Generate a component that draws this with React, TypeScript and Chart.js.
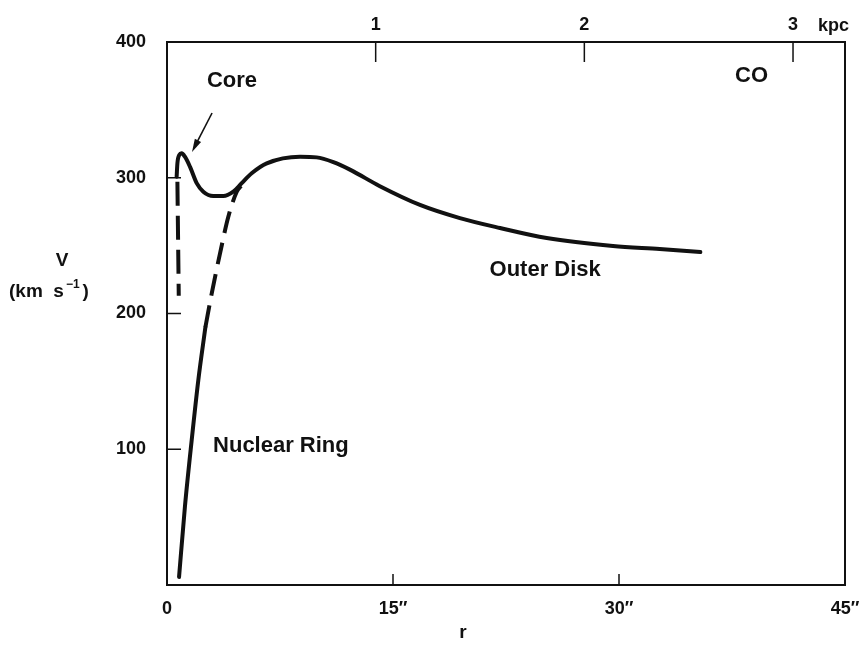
import { useEffect, useRef } from 'react';
import { Chart, registerables } from 'chart.js';
Chart.register(...registerables);

// Radius in arcsec, rotation velocity in km/s
const outerR = [0.64, 0.69, 0.82, 0.97, 1.19, 1.53, 1.97, 2.41, 3.07, 3.74, 4.40, 4.96, 5.62, 6.62, 8.83, 9.93, 11.04, 12.14, 14.13, 16.79, 19.44, 22.1, 25.2, 29.6, 32.7, 35.4];
const outerV = [300.8, 310.6, 316.8, 318, 315.5, 308, 296, 289.7, 286.5, 286.5, 289.7, 296, 303.3, 310.6, 315.5, 315, 311.5, 306, 293.8, 280, 270.3, 263, 255.6, 249.7, 247.5, 245.3];
const coreDashR = [0.69, 0.78];
const coreDashV = [297, 213];
const ringSolidR = [0.80, 1.19, 1.64, 2.08, 2.55];
const ringSolidV = [5.9, 57.7, 106.8, 151, 190];
const ringDashR = [2.55, 2.97, 3.52, 4.07, 4.63, 4.91];
const ringDashV = [190, 214.9, 244.3, 271.3, 289.7, 293.9];

const xTicks = [0, 15, 30, 45];
const yTicks = [100, 200, 300, 400];
const kpcTicks = [1, 2, 3];
const arcsecPerKpc = 13.85;

const labels = [
  { text: 'Core', r: 4.31, v: 371.3 },
  { text: 'CO', r: 38.8, v: 375 },
  { text: 'Outer Disk', r: 25.1, v: 232 },
  { text: 'Nuclear Ring', r: 7.56, v: 102.4 },
];
const arrowFrom = { r: 2.99, v: 347.7 };
const arrowTo = { r: 1.66, v: 319 };

const FONT = "'Liberation Sans', Arial, Helvetica, sans-serif";
const INK = '#111';

const pts = (xs: number[], ys: number[]) => xs.map((x, i) => ({ x, y: ys[i] }));

const overlay = {
  id: 'overlay',
  afterDraw(chart: any) {
    const { ctx, chartArea: a, scales } = chart;
    const sx = scales.x, sy = scales.y, sk = scales.x2;
    ctx.save();
    ctx.strokeStyle = INK;
    ctx.fillStyle = INK;
    ctx.lineWidth = 2;
    ctx.strokeRect(a.left, a.top, a.right - a.left, a.bottom - a.top);
    ctx.lineWidth = 1.5;
    ctx.beginPath();
    for (const v of yTicks) {
      if (v >= 400) continue;
      const y = sy.getPixelForValue(v);
      ctx.moveTo(a.left, y);
      ctx.lineTo(a.left + 14, y);
    }
    for (const v of xTicks) {
      if (v === 0 || v === 45) continue;
      const x = sx.getPixelForValue(v);
      ctx.moveTo(x, a.bottom);
      ctx.lineTo(x, a.bottom - 11);
    }
    for (const v of kpcTicks) {
      const x = sk.getPixelForValue(v);
      ctx.moveTo(x, a.top);
      ctx.lineTo(x, a.top + 20);
    }
    ctx.stroke();

    // annotations
    ctx.font = `bold 22px ${FONT}`;
    ctx.textAlign = 'center';
    ctx.textBaseline = 'middle';
    for (const l of labels) {
      ctx.fillText(l.text, sx.getPixelForValue(l.r), sy.getPixelForValue(l.v));
    }
    // arrow
    const x1 = sx.getPixelForValue(arrowFrom.r), y1 = sy.getPixelForValue(arrowFrom.v);
    const x2 = sx.getPixelForValue(arrowTo.r), y2 = sy.getPixelForValue(arrowTo.v);
    const ang = Math.atan2(y2 - y1, x2 - x1);
    const hl = 13, hw = 3.5;
    ctx.lineWidth = 1.6;
    ctx.beginPath();
    ctx.moveTo(x1, y1);
    ctx.lineTo(x2 - Math.cos(ang) * hl * 0.8, y2 - Math.sin(ang) * hl * 0.8);
    ctx.stroke();
    ctx.beginPath();
    ctx.moveTo(x2, y2);
    ctx.lineTo(x2 - Math.cos(ang) * hl - Math.sin(ang) * hw, y2 - Math.sin(ang) * hl + Math.cos(ang) * hw);
    ctx.lineTo(x2 - Math.cos(ang) * hl + Math.sin(ang) * hw, y2 - Math.sin(ang) * hl - Math.cos(ang) * hw);
    ctx.closePath();
    ctx.fill();

    // axis titles
    ctx.font = `bold 19px ${FONT}`;
    ctx.textAlign = 'center';
    ctx.fillText('V', 62, 261);
    ctx.fillText('r', 463, 633);
    ctx.textAlign = 'left';
    const base = '(km  s';
    let tx = 9;
    ctx.fillText(base, tx, 292);
    tx += ctx.measureText(base).width + 2;
    ctx.font = `bold 12px ${FONT}`;
    ctx.fillText('−1', tx, 285);
    tx += ctx.measureText('−1').width + 3;
    ctx.font = `bold 19px ${FONT}`;
    ctx.fillText(')', tx, 292);
    // kpc unit
    ctx.font = `bold 18px ${FONT}`;
    ctx.fillText('kpc', 818, 26);
    ctx.restore();
  },
};

export default function App() {
  const ref = useRef<HTMLCanvasElement>(null);
  useEffect(() => {
    const tickFont = { family: FONT, size: 18, weight: 'bold' as const };
    const common = {
      grid: { display: false, drawTicks: false },
      border: { display: false },
    };
    const line = {
      borderColor: INK,
      borderWidth: 4,
      pointRadius: 0,
      fill: false,
      cubicInterpolationMode: 'monotone' as const,
    };
    const chart = new Chart(ref.current!, {
      type: 'line',
      data: {
        datasets: [
          { ...line, data: pts(outerR, outerV), borderCapStyle: 'round' },
          { ...line, data: pts(coreDashR, coreDashV), borderDash: [24, 10] },
          { ...line, data: pts(ringSolidR, ringSolidV), borderCapStyle: 'round' },
          { ...line, data: pts(ringDashR, ringDashV), borderDash: [22, 10] },
        ] as any,
      },
      options: {
        animation: false,
        responsive: false,
        devicePixelRatio: 1,
        layout: { padding: { left: 0, top: 0, right: 17, bottom: 0 } },
        plugins: { legend: { display: false }, tooltip: { enabled: false } },
        scales: {
          x: {
            type: 'linear',
            position: 'bottom',
            min: 0,
            max: 45,
            ...common,
            afterBuildTicks: (s: any) => { s.ticks = xTicks.map((v) => ({ value: v })); },
            afterFit: (s: any) => { s.height = 70; s.paddingLeft = 0; s.paddingRight = 0; },
            ticks: {
              font: tickFont, color: INK, padding: 13, maxRotation: 0, autoSkip: false,
              callback: (v: any) => (v === 0 ? '0' : `${v}″`),
            },
          },
          x2: {
            type: 'linear',
            axis: 'x',
            position: 'top',
            min: 0,
            max: 45 / arcsecPerKpc,
            ...common,
            afterBuildTicks: (s: any) => { s.ticks = kpcTicks.map((v) => ({ value: v })); },
            afterFit: (s: any) => { s.height = 42; s.paddingLeft = 0; s.paddingRight = 0; },
            ticks: { font: tickFont, color: INK, padding: 6, maxRotation: 0, autoSkip: false, callback: (v: any) => String(v) },
          },
          y: {
            type: 'linear',
            min: 0,
            max: 400,
            ...common,
            afterBuildTicks: (s: any) => { s.ticks = yTicks.map((v) => ({ value: v })); },
            afterFit: (s: any) => { s.width = 167; s.paddingTop = 0; s.paddingBottom = 0; },
            ticks: { font: tickFont, color: INK, padding: 21, autoSkip: false, callback: (v: any) => String(v) },
          },
        } as any,
      },
      plugins: [overlay],
    });
    return () => chart.destroy();
  }, []);
  return (
    <div style={{ position: 'fixed', left: 0, top: 0, width: 862, height: 655, background: '#fff' }}>
      <canvas ref={ref} width={862} height={655} style={{ display: 'block' }} />
    </div>
  );
}
